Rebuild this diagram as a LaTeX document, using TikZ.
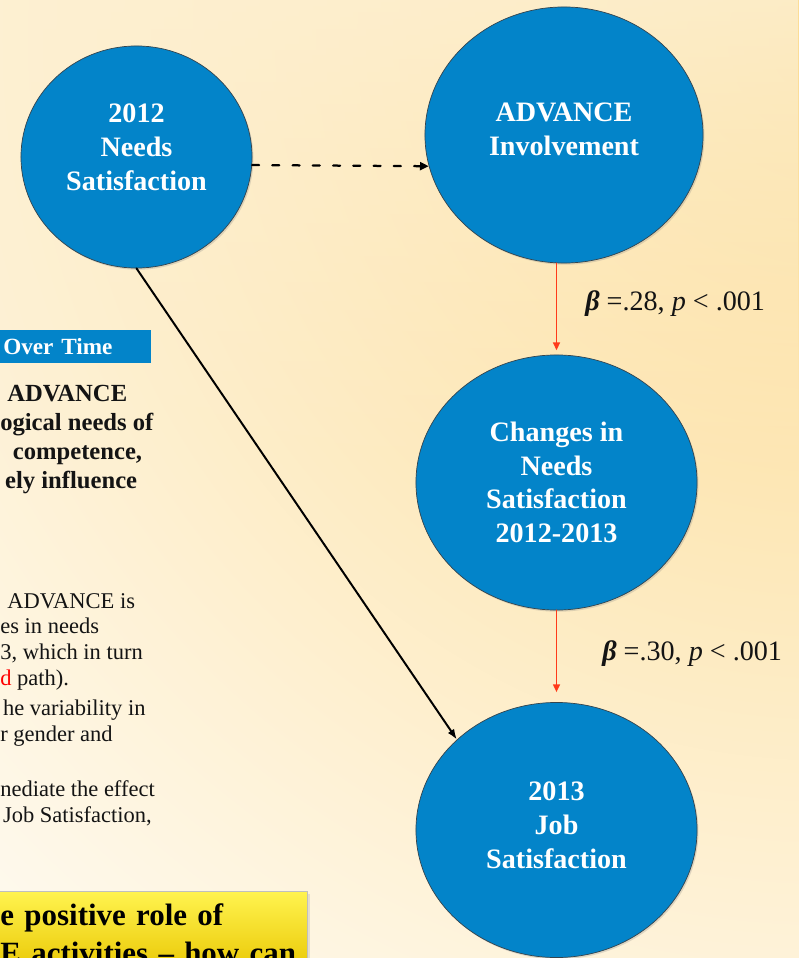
\documentclass[tikz,border=0pt]{standalone}
\usepackage{fontspec}
\setmainfont{Liberation Serif}
\usepackage{xcolor}
\usepackage{tikz}
\usetikzlibrary{arrows.meta,fadings,positioning,shapes.geometric,shadows}
\definecolor{semBlue}{HTML}{0384C9}
\definecolor{semRim}{HTML}{34444E}
\definecolor{semRed}{HTML}{FF3A1A}
\definecolor{semInk}{HTML}{141414}
\definecolor{semGold}{HTML}{FCDC94}
\definecolor{semCream}{HTML}{FDF0D2}
\definecolor{semYellowTop}{HTML}{FFF34F}
\definecolor{semYellowBot}{HTML}{E8C500}
\tikzset{
  sem diagram/.style={x=0.025cm, y=-0.025cm, text=semInk,
    line cap=round, line join=round},
  sem latent/.style={ellipse, draw=semRim, line width=0.5pt, fill=semBlue,
    text=white, font=\bfseries\fontsize{20}{24}\selectfont, align=center,
    inner sep=0pt, drop shadow={opacity=0.25, shadow xshift=1pt, shadow yshift=-1.2pt}},
  sem arrow/.style={-{Latex[length=2.6mm,width=1.9mm]}, draw=black, line width=1.4pt},
  sem dashed/.style={-{Triangle[length=2.2mm,width=2mm]}, draw=black,
    line width=1.6pt, dash pattern=on 5pt off 9.4pt},
  sem path/.style={-{Triangle[length=2mm,width=1.7mm]}, draw=semRed, line width=1.4pt},
  sem coef/.style={font=\fontsize{20}{24}\selectfont, anchor=base west, inner sep=0pt},
  sem head/.style={font=\bfseries\fontsize{17.5}{20.4}\selectfont, anchor=base west,
    align=left, inner sep=0pt},
  sem body/.style={font=\fontsize{16}{18.2}\selectfont, anchor=base west,
    align=left, inner sep=0pt},
  sem banner/.style={anchor=north west, fill=semBlue, text=white,
    font=\bfseries\fontsize{16.5}{19}\selectfont, minimum width=3.775cm,
    minimum height=0.825cm, inner xsep=0.075cm, inner ysep=0pt,
    text width=3.625cm, align=left},
  sem callout/.style={anchor=north west, top color=semYellowTop, bottom color=semYellowBot,
    draw=black!25, line width=0.6pt, font=\bfseries\fontsize{22}{27}\selectfont,
    text=black, inner xsep=0.15cm, inner ysep=8.5pt, text width=7.525cm, align=left,
    drop shadow={opacity=0.2, shadow xshift=1.5pt, shadow yshift=-1.5pt}}
}
\begin{document}
\begin{tikzpicture}[sem diagram]
% backdrop
\fill[white] (0,0) rectangle (799,958);
\begin{scope}
  \clip (0,0) rectangle (799,958);
  \shade[inner color=semGold, outer color=white] (830,40) circle (36cm);
  \fill[semCream, path fading=south, fill opacity=0.8] (0,0) rectangle (799,480);
\end{scope}
\useasboundingbox (0,0) rectangle (799,958);

% text on the left, cut by the slide edge (base = last line)
\node[sem banner] (title) at (0,330) {Over Time};
\node[sem head] (claim) at (0,488) {\hspace*{5pt}ADVANCE\\ogical needs of\\\hspace*{9pt}competence,\\\hspace*{3.5pt}ely influence};
\node[sem body] (res1) at (0,685) {\hspace*{5pt}ADVANCE is\\es in needs\\3, which in turn\\\textcolor{red}{d} path).};
\node[sem body] (res2) at (0,741) {\hspace*{2pt}he variability in\\r gender and};
\node[sem body] (res3) at (0,822) {nediate the effect\\\hspace*{2pt}Job Satisfaction,};
\node[sem callout] (take) at (-6,891) {e positive role of\\E activities -- how can};

% path model
\node[sem latent, minimum width=5.775cm, minimum height=5.55cm, text depth=14pt] (need12) at (136.5,157) {2012\\Needs\\Satisfaction};
\node[sem latent, minimum width=6.95cm, minimum height=6.4cm, text depth=8.5pt] (adv) at (564,135) {ADVANCE\\Involvement};
\node[sem latent, minimum width=7.025cm, minimum height=6.375cm] (dneed) at (556.5,482.5) {Changes in\\Needs\\Satisfaction\\2012-2013};
\node[sem latent, minimum width=7.025cm, minimum height=6.375cm, text depth=7pt] (job13) at (556.5,830) {2013\\Job\\Satisfaction};

\draw[sem dashed] (need12.-4) -- (adv.193);
\draw[sem path, shorten >=3pt] (adv.south -| dneed.north) -- (dneed.north);
\draw[sem path, shorten >=7pt] (dneed.south) -- (job13.north);
\draw[sem arrow] (need12.south) -- (job13.north west);

\node[sem coef] (b1) at (585,310) {\textbf{\textit{β}} =.28, \textit{p} < .001};
\node[sem coef] (b2) at (602,660) {\textbf{\textit{β}} =.30, \textit{p} < .001};
\end{tikzpicture}
\end{document}
